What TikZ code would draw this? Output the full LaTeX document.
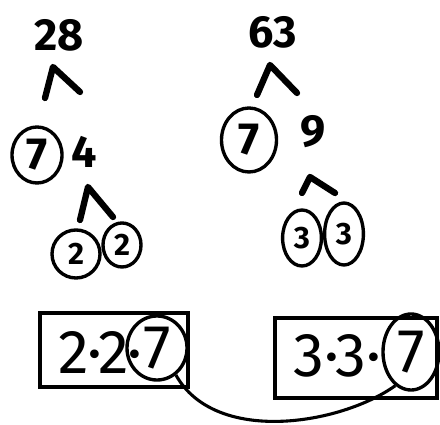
\documentclass[tikz,border=0pt]{standalone}
\usepackage{fontspec}
\setmainfont{Fira Sans}
\usetikzlibrary{shapes.geometric}

\tikzset{
    num/.style={font=\fontsize{32}{32}\selectfont\bfseries},
    big/.style={font=\fontsize{44}{44}\selectfont},
    small/.style={font=\fontsize{22}{22}\selectfont\bfseries},
    ring/.style={draw, ellipse, line width=2.4pt, inner sep=0pt},
    caret/.style={line width=4.5pt, line cap=round, line join=round},
    frame/.style={draw, rectangle, line width=2.8pt},
}

\begin{document}
\begin{tikzpicture}[x=0.025cm, y=-0.025cm]
    \useasboundingbox (0,0) rectangle (440,425);

    % tree of 28
    \node [num] (n28) at (59,35) {28};
    \coordinate (a1) at (45,98);
    \coordinate (a2) at (53,67);
    \coordinate (a3) at (80,92);
    \draw [caret] (a1) -- (a2) -- (a3);

    \node [ring, num, minimum width=1.25cm, minimum height=1.4cm] (s7) at (37,155) {7};
    \node [num] (n4) at (84,152) {4};
    \coordinate (b1) at (80,220);
    \coordinate (b2) at (88,187);
    \coordinate (b3) at (113,217);
    \draw [caret] (b1) -- (b2) -- (b3);

    \node [ring, small, minimum width=1.2cm, minimum height=1.2cm] (s2a) at (76,254) {2};
    \node [ring, small, minimum width=0.95cm, minimum height=1.1cm] (s2b) at (122,245) {2};

    % tree of 63
    \node [num] (n63) at (273,32) {63};
    \coordinate (c1) at (257,95);
    \coordinate (c2) at (270,65);
    \coordinate (c3) at (297,93);
    \draw [caret] (c1) -- (c2) -- (c3);

    \node [ring, num, minimum width=1.375cm, minimum height=1.6cm] (t7) at (249,140) {7};
    \node [num] (n9) at (313,132) {9};
    \coordinate (d1) at (302,193);
    \coordinate (d2) at (310,177);
    \coordinate (d3) at (335,193);
    \draw [caret] (d1) -- (d2) -- (d3);

    \node [ring, small, minimum width=0.97cm, minimum height=1.4cm] (t3a) at (302,238) {3};
    \node [ring, small, minimum width=0.97cm, minimum height=1.55cm] (t3b) at (344,234) {3};

    % products
    \node [frame, minimum width=3.7cm, minimum height=1.85cm] (box1) at (114,350) {};
    \node [big] (p1) at (100,352) {2·2·};
    \node [ring, big, minimum width=1.5cm, minimum height=1.6cm] (q1) at (157,348) {7};

    \node [frame, minimum width=4.05cm, minimum height=2cm] (box2) at (356,358) {};
    \node [big] (p2) at (337,356) {3·3·};
    \node [ring, big, minimum width=1.4cm, minimum height=1.9cm] (q2) at (411,352) {7};

    \draw [line width=2.2pt] (q1.-55) .. controls (215,445) and (340,425) .. (q2.-115);
\end{tikzpicture}
\end{document}
